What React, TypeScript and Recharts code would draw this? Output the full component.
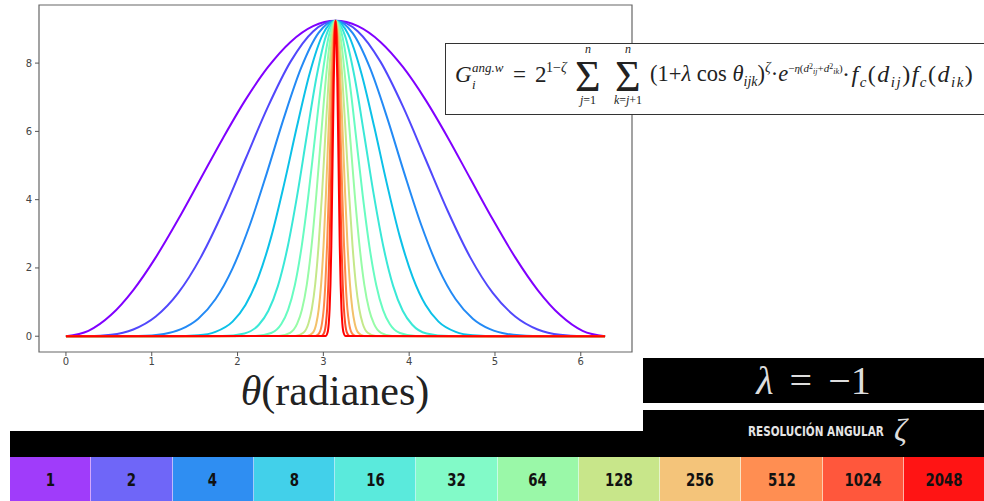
import React from "react"
import { LineChart, Line, XAxis, YAxis, ReferenceArea } from "recharts"

// resolution values shown in the legend, one curve each
const ZETAS = ["1", "2", "4", "8", "16", "32", "64", "128", "256", "512", "1024", "2048"]
const CURVE_COLORS = [
  "#8000ff", "#5148fc", "#238af5", "#0cc1e8", "#3ae8d7", "#68fcc1",
  "#97fca7", "#c5e88a", "#f3c16a", "#ff8a48", "#ff4824", "#ff0000",
]
const CELL_COLORS = [
  "#a03cfa", "#6f66f8", "#2f8ef2", "#42d0ea", "#5aeadc", "#82fac8",
  "#9af8a8", "#c8e68a", "#f4c47a", "#ff8e52", "#ff573c", "#ff1414",
]
const X_TICKS = [0, 1, 2, 3, 4, 5, 6]
const Y_TICKS = [0, 2, 4, 6, 8]

// theta (rad) and G values
const THETA_Z1 = [0, 0.262, 0.524, 0.785, 1.047, 1.309, 1.571, 1.833, 2.094, 2.356, 2.618, 2.88, 3.142, 3.403, 3.665, 3.927, 4.189, 4.451, 4.712, 4.974, 5.236, 5.498, 5.76, 6.021, 6.283]
const G_Z1 = [0, 0.157, 0.619, 1.353, 2.31, 3.424, 4.62, 5.816, 6.93, 7.887, 8.621, 9.083, 9.24, 9.083, 8.621, 7.887, 6.93, 5.816, 4.62, 3.424, 2.31, 1.353, 0.619, 0.157, 0]

const THETA_Z2 = [0, 0.262, 0.524, 0.785, 1.047, 1.309, 1.571, 1.833, 2.094, 2.356, 2.618, 2.88, 3.142, 3.403, 3.665, 3.927, 4.189, 4.451, 4.712, 4.974, 5.236, 5.498, 5.76, 6.021, 6.283]
const G_Z2 = [0, 0.003, 0.041, 0.198, 0.578, 1.269, 2.31, 3.66, 5.198, 6.732, 8.043, 8.929, 9.24, 8.929, 8.043, 6.732, 5.198, 3.66, 2.31, 1.269, 0.578, 0.198, 0.041, 0.003, 0]

const THETA_Z4 = [0, 0.542, 0.842, 1.142, 1.342, 1.542, 1.742, 1.942, 2.142, 2.342, 2.542, 2.742, 2.942, 3.142, 3.342, 3.542, 3.742, 3.942, 4.142, 4.342, 4.542, 4.742, 4.942, 5.142, 5.442, 5.742, 6.283]
const G_Z4 = [0, 0, 0.007, 0.067, 0.206, 0.513, 1.082, 1.989, 3.251, 4.786, 6.411, 7.865, 8.877, 9.24, 8.877, 7.865, 6.411, 4.786, 3.251, 1.989, 1.082, 0.513, 0.206, 0.067, 0.007, 0, 0]

const THETA_Z8 = [0, 0.742, 1.242, 1.542, 1.742, 1.942, 2.092, 2.242, 2.392, 2.542, 2.692, 2.842, 2.992, 3.142, 3.292, 3.442, 3.592, 3.742, 3.892, 4.042, 4.192, 4.342, 4.542, 4.742, 5.042, 5.542, 6.283]
const G_Z8 = [0, 0, 0.002, 0.028, 0.127, 0.428, 0.913, 1.726, 2.91, 4.448, 6.141, 7.713, 8.833, 9.24, 8.833, 7.713, 6.141, 4.448, 2.91, 1.726, 0.913, 0.428, 0.127, 0.028, 0.002, 0, 0]

const THETA_Z16 = [0, 1.819, 2.081, 2.248, 2.359, 2.471, 2.583, 2.695, 2.807, 2.918, 3.03, 3.142, 3.254, 3.366, 3.477, 3.589, 3.701, 3.813, 3.925, 4.036, 4.203, 4.465, 6.283]
const G_Z16 = [0, 0.005, 0.082, 0.337, 0.747, 1.475, 2.604, 4.124, 5.879, 7.562, 8.789, 9.24, 8.789, 7.562, 5.879, 4.124, 2.604, 1.475, 0.747, 0.337, 0.082, 0.005, 0]

const THETA_Z32 = [0, 2.207, 2.392, 2.51, 2.589, 2.668, 2.747, 2.826, 2.905, 2.984, 3.063, 3.142, 3.221, 3.3, 3.379, 3.458, 3.537, 3.616, 3.695, 3.774, 3.892, 4.077, 6.283]
const G_Z32 = [0, 0.006, 0.093, 0.357, 0.772, 1.501, 2.626, 4.138, 5.885, 7.565, 8.789, 9.24, 8.789, 7.565, 5.885, 4.138, 2.626, 1.501, 0.772, 0.357, 0.093, 0.006, 0]

const THETA_Z64 = [0, 2.481, 2.612, 2.695, 2.751, 2.807, 2.862, 2.918, 2.974, 3.03, 3.086, 3.142, 3.198, 3.254, 3.31, 3.366, 3.422, 3.477, 3.533, 3.589, 3.672, 3.803, 6.283]
const G_Z64 = [0, 0.007, 0.098, 0.367, 0.785, 1.514, 2.636, 4.145, 5.89, 7.565, 8.789, 9.24, 8.789, 7.565, 5.89, 4.145, 2.636, 1.514, 0.785, 0.367, 0.098, 0.007, 0]

const THETA_Z128 = [0, 2.674, 2.767, 2.826, 2.865, 2.905, 2.944, 2.984, 3.023, 3.063, 3.102, 3.142, 3.182, 3.221, 3.261, 3.3, 3.34, 3.379, 3.419, 3.458, 3.517, 3.61, 6.283]
const G_Z128 = [0, 0.008, 0.1, 0.372, 0.791, 1.523, 2.645, 4.15, 5.891, 7.565, 8.789, 9.24, 8.789, 7.565, 5.891, 4.15, 2.645, 1.523, 0.791, 0.372, 0.1, 0.008, 0]

const THETA_Z256 = [0, 2.811, 2.877, 2.918, 2.946, 2.974, 3.002, 3.03, 3.058, 3.086, 3.114, 3.142, 3.17, 3.198, 3.226, 3.254, 3.282, 3.31, 3.338, 3.366, 3.407, 3.473, 6.283]
const G_Z256 = [0, 0.008, 0.102, 0.375, 0.795, 1.526, 2.647, 4.152, 5.891, 7.565, 8.789, 9.24, 8.789, 7.565, 5.891, 4.152, 2.647, 1.526, 0.795, 0.375, 0.102, 0.008, 0]

const THETA_Z512 = [0, 2.908, 2.954, 2.984, 3.004, 3.023, 3.043, 3.063, 3.083, 3.102, 3.122, 3.142, 3.162, 3.182, 3.201, 3.221, 3.241, 3.261, 3.28, 3.3, 3.33, 3.376, 6.283]
const G_Z512 = [0, 0.008, 0.103, 0.377, 0.797, 1.527, 2.647, 4.152, 5.891, 7.565, 8.789, 9.24, 8.789, 7.565, 5.891, 4.152, 2.647, 1.527, 0.797, 0.377, 0.103, 0.008, 0]

const THETA_Z1024 = [0, 2.977, 3.009, 3.03, 3.044, 3.058, 3.072, 3.086, 3.1, 3.114, 3.128, 3.142, 3.156, 3.17, 3.184, 3.198, 3.212, 3.226, 3.24, 3.254, 3.275, 3.307, 6.283]
const G_Z1024 = [0, 0.008, 0.103, 0.377, 0.797, 1.527, 2.647, 4.152, 5.891, 7.565, 8.789, 9.24, 8.789, 7.565, 5.891, 4.152, 2.647, 1.527, 0.797, 0.377, 0.103, 0.008, 0]

const THETA_Z2048 = [0, 3.025, 3.048, 3.063, 3.073, 3.083, 3.093, 3.102, 3.112, 3.122, 3.132, 3.142, 3.152, 3.162, 3.172, 3.182, 3.191, 3.201, 3.211, 3.221, 3.236, 3.259, 6.283]
const G_Z2048 = [0, 0.008, 0.103, 0.377, 0.797, 1.527, 2.647, 4.152, 5.891, 7.565, 8.789, 9.24, 8.789, 7.565, 5.891, 4.152, 2.647, 1.527, 0.797, 0.377, 0.103, 0.008, 0]

const THETAS = [THETA_Z1, THETA_Z2, THETA_Z4, THETA_Z8, THETA_Z16, THETA_Z32, THETA_Z64, THETA_Z128, THETA_Z256, THETA_Z512, THETA_Z1024, THETA_Z2048]
const GS = [G_Z1, G_Z2, G_Z4, G_Z8, G_Z16, G_Z32, G_Z64, G_Z128, G_Z256, G_Z512, G_Z1024, G_Z2048]

const X_DOMAIN: [number, number] = [-0.314, 6.597]
const Y_DOMAIN: [number, number] = [-0.462, 9.702]

const serif = '"Liberation Serif", "DejaVu Serif", serif'
const bold = '"DejaVu Sans", sans-serif'

// text placed by its baseline (Liberation Serif metrics)
function T({ x, base, size, lh, center, style, children }: {
  x: number; base: number; size: number; lh?: number; center?: boolean
  style?: React.CSSProperties; children: React.ReactNode
}) {
  const lineH = lh ?? size
  return (
    <div style={{
      position: "absolute", left: x, top: base - 0.891 * size - (lineH - 1.107 * size) / 2,
      fontFamily: serif, fontSize: size, lineHeight: `${lineH}px`, color: "#222", whiteSpace: "nowrap",
      transform: center ? "translateX(-50%)" : undefined, ...style,
    }}>
      {children}
    </div>
  )
}

const up = (dy: number, size: number): React.CSSProperties => ({ position: "relative", top: -dy, fontSize: size, lineHeight: 0 })

function Formula() {
  return (
    <>
      <div style={{ position: "absolute", left: 445, top: 43, width: 600, height: 72, border: "1.5px solid #333", background: "#fff", boxSizing: "border-box" }} />
      <T x={455} base={82} size={23}><i>G</i></T>
      <T x={472} base={72} size={13} lh={11}><i>ang.w</i></T>
      <T x={472} base={89} size={13} lh={11}><i>i</i></T>
      <T x={513} base={82} size={23}>=</T>
      <T x={535} base={82} size={23}>2</T>
      <T x={546} base={72} size={14} lh={11}>1−<i>ζ</i></T>

      <T x={575} base={92} size={44} lh={30}>Σ</T>
      <T x={588} base={53} size={12} lh={10} center><i>n</i></T>
      <T x={588} base={104} size={12} lh={10} center><i>j</i>=1</T>
      <T x={615} base={92} size={44} lh={30}>Σ</T>
      <T x={628} base={53} size={12} lh={10} center><i>n</i></T>
      <T x={628} base={104} size={12} lh={10} center><i>k</i>=<i>j</i>+1</T>

      <T x={650} base={82} size={22.5}>
        (1+<i>λ</i> cos <i>θ</i><span style={up(-5, 14)}><i>ijk</i></span>)<span style={up(9, 14)}><i>ζ</i></span>·<i>e</i>
        <span style={up(9, 11)}>−<i>η</i>(<i>d</i><span style={up(3, 8)}>2</span><span style={up(-2, 8)}><i>ij</i></span>+<i>d</i><span style={up(3, 8)}>2</span><span style={up(-2, 8)}><i>ik</i></span>)</span>
      </T>
      <T x={842} base={82} size={24} style={{ letterSpacing: 1.5 }}>
        ·<i>f</i><span style={up(-5, 15)}><i>c</i></span>(<i>d</i><span style={up(-5, 15)}><i>ij</i></span>)<i>f</i><span style={up(-5, 15)}><i>c</i></span>(<i>d</i><span style={up(-5, 15)}><i>ik</i></span>)
      </T>
    </>
  )
}

export default function App() {
  return (
    <div style={{ position: "absolute", left: 0, top: 0, width: 984, height: 501, background: "#fff", overflow: "hidden" }}>
      <LineChart width={640} height={372} margin={{ top: 5, right: 8, bottom: 0, left: 0 }}>
        <XAxis
          dataKey="theta" type="number" domain={X_DOMAIN} ticks={X_TICKS} allowDataOverflow
          height={20} axisLine={false} tickSize={4} tickMargin={2}
          tickLine={{ stroke: "#555" }} tick={{ fontSize: 10, fill: "#444", fontFamily: "DejaVu Sans" }}
        />
        <YAxis
          type="number" domain={Y_DOMAIN} ticks={Y_TICKS} allowDataOverflow
          width={39} axisLine={false} tickSize={4} tickMargin={3}
          tickLine={{ stroke: "#555" }} tick={{ fontSize: 10, fill: "#444", fontFamily: "DejaVu Sans" }}
        />
        <ReferenceArea x1={X_DOMAIN[0]} x2={X_DOMAIN[1]} y1={Y_DOMAIN[0]} y2={Y_DOMAIN[1]} fill="none" stroke="#666" strokeWidth={1.2} />
        {ZETAS.map((z, i) => (
          <Line
            key={z}
            data={THETAS[i].map((t, k) => ({ theta: t, g: GS[i][k] }))}
            dataKey="g" type="monotone" stroke={CURVE_COLORS[i]} strokeWidth={2}
            dot={false} activeDot={false} isAnimationActive={false}
          />
        ))}
      </LineChart>

      <div style={{ position: "absolute", left: 235, top: 370, width: 200, textAlign: "center", fontFamily: serif, fontSize: 42, lineHeight: "42px", color: "#222" }}>
        <i>θ</i>(radianes)
      </div>

      <Formula />

      <div style={{ position: "absolute", left: 643, top: 358, width: 341, height: 45, background: "#000", color: "#ddd", fontFamily: serif, fontSize: 40, lineHeight: "45px", textAlign: "center", whiteSpace: "pre", wordSpacing: 6 }}>
        <i>λ</i> = −1
      </div>

      <div style={{ position: "absolute", left: 643, top: 410, width: 341, height: 22, background: "#000" }} />
      <div style={{ position: "absolute", left: 10, top: 431, width: 974, height: 26, background: "#000" }} />
      <div style={{ position: "absolute", left: 748, top: 423, fontFamily: bold, fontWeight: 700, fontSize: 14.5, lineHeight: "17px", color: "#e4e4e4", whiteSpace: "nowrap", transform: "scaleX(0.72)", transformOrigin: "left center" }}>
        RESOLUCIÓN ANGULAR
      </div>
      <div style={{ position: "absolute", left: 894, top: 413, fontFamily: serif, fontStyle: "italic", fontSize: 32, lineHeight: "34px", color: "#ddd" }}>
        ζ
      </div>

      <div style={{ position: "absolute", left: 10, top: 457, width: 974, height: 44, display: "flex" }}>
        {ZETAS.map((z, i) => (
          <div key={z} style={{
            flex: 1, background: CELL_COLORS[i], display: "flex", alignItems: "center", justifyContent: "center",
            borderRight: i < ZETAS.length - 1 ? "1px solid rgba(255,255,255,0.55)" : "none",
          }}>
            <span style={{ fontFamily: bold, fontWeight: 700, fontSize: 18, color: "#111", display: "inline-block", transform: "scaleX(0.74)" }}>
              {z}
            </span>
          </div>
        ))}
      </div>
    </div>
  )
}
